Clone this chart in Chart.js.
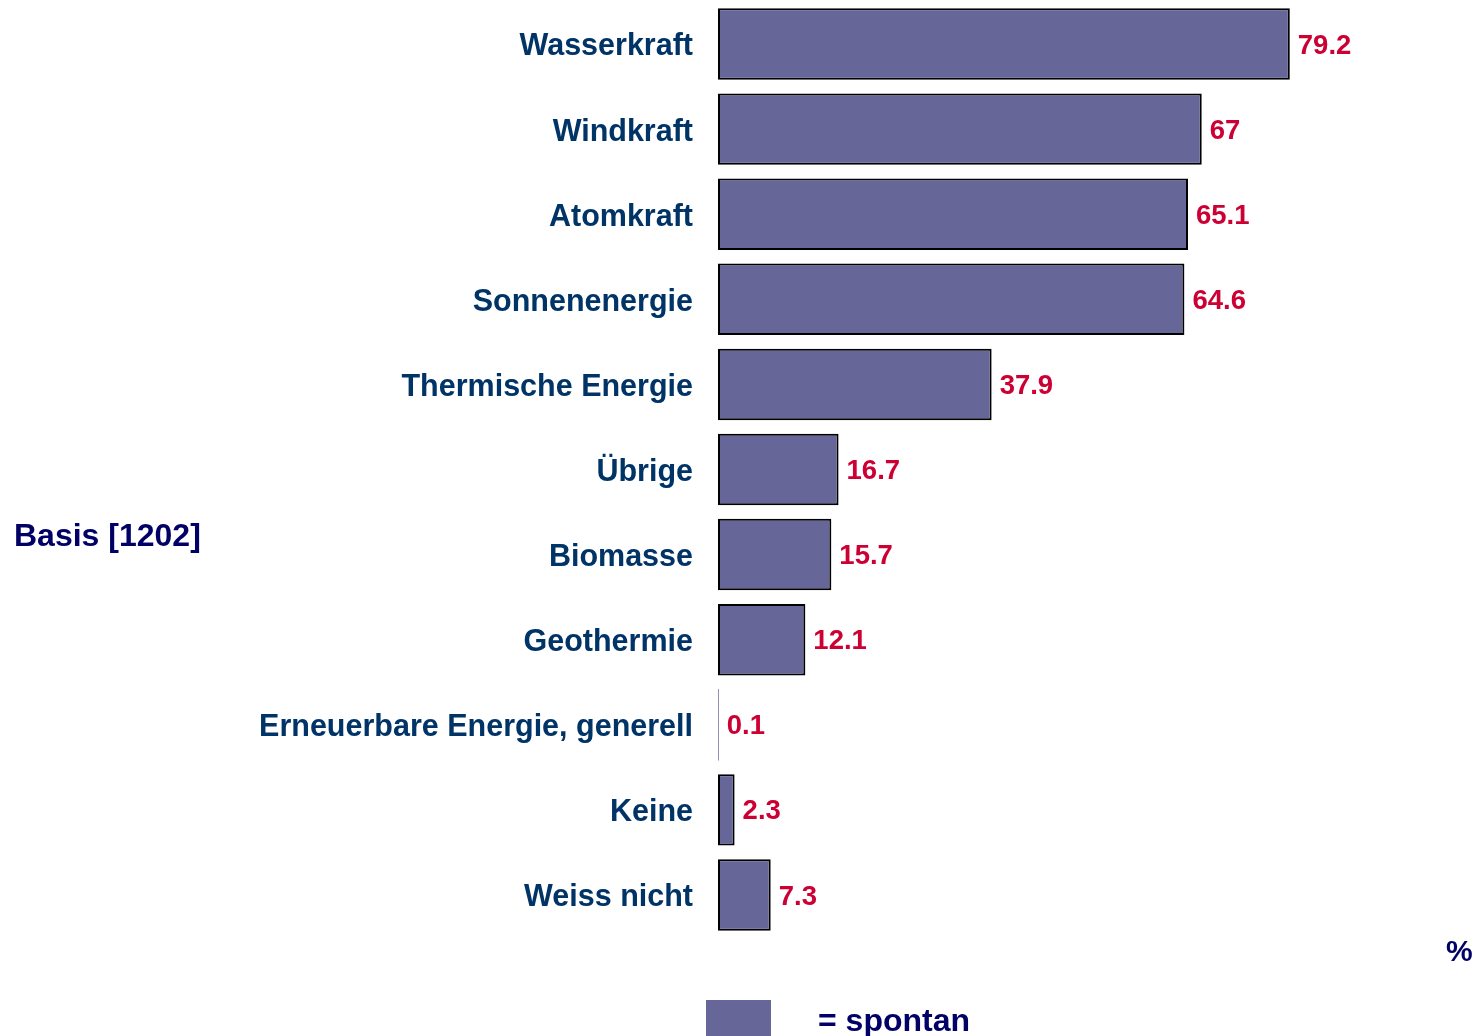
<!DOCTYPE html>
<html>
<head>
<meta charset="utf-8">
<script src="https://cdn.jsdelivr.net/npm/chart.js@4/dist/chart.umd.min.js"></script>
<style>
  html, body { margin: 0; padding: 0; background: #fff; }
  #wrap { position: relative; width: 1477px; height: 1036px; }
</style>
</head>
<body>
<div id="wrap"><canvas id="chart"></canvas></div>
<script>
const categories = ["Wasserkraft", "Windkraft", "Atomkraft", "Sonnenenergie", "Thermische Energie",
    "Übrige", "Biomasse", "Geothermie", "Erneuerbare Energie, generell", "Keine", "Weiss nicht"]
const spontanValues = [79.2, 67, 65.1, 64.6, 37.9, 16.7, 15.7, 12.1, 0.1, 2.3, 7.3]
const baseLabel = "Basis [1202]"
const unitLabel = "%"
const seriesLabel = "spontan"

const FONT = "'Liberation Sans', Arial, sans-serif"

// draws value labels, the base note, the unit and the legend
const extrasPlugin = {
    id: "extras",
    afterDatasetsDraw(chart){
        const ctx = chart.ctx
        const meta = chart.getDatasetMeta(0)
        ctx.save()
        ctx.font = `bold 27.5px ${FONT}`
        ctx.fillStyle = "#cc0033"
        ctx.textBaseline = "middle"
        ctx.textAlign = "left"
        meta.data.forEach((bar, i) => {
            ctx.fillText(String(spontanValues[i]), bar.x + 8, bar.y + 2)
        })

        ctx.fillStyle = "#000066"
        ctx.font = `bold 32px ${FONT}`
        ctx.fillText(baseLabel, 14, 537)
        ctx.fillText("= " + seriesLabel, 818, 1022)
        ctx.font = `bold 30px ${FONT}`
        ctx.fillText(unitLabel, 1446, 953)

        // legend swatch
        ctx.fillStyle = "#666699"
        ctx.fillRect(706, 1000, 65, 36)
        ctx.restore()
    }
}

new Chart(document.getElementById("chart"), {
    type: "bar",
    data: {
        labels: categories,
        datasets: [{
            label: seriesLabel,
            data: spontanValues,
            backgroundColor: "#666699",
            borderColor: "#000000",
            // a near-zero bar shows no outline in the original
            borderWidth: (c) => (c.raw < 0.5 ? 0 : 2),
            borderSkipped: false,
            barPercentage: 0.84,
            categoryPercentage: 1
        }]
    },
    options: {
        indexAxis: "y",
        responsive: true,
        maintainAspectRatio: false,
        animation: false,
        layout: { padding: { top: 1.5, bottom: 98.5, left: 0, right: 37 } },
        plugins: {
            legend: { display: false },
            tooltip: { enabled: false }
        },
        scales: {
            x: {
                display: false,
                min: 0,
                max: 100
            },
            y: {
                grid: { display: false, drawTicks: false },
                border: { display: false },
                afterFit(scale){
                    scale.width = 718
                    scale.paddingTop = 0
                    scale.paddingBottom = 0
                },
                ticks: {
                    padding: 25,
                    labelOffset: 3,
                    color: "#003366",
                    font: { family: FONT, size: 30.5, weight: "bold" }
                }
            }
        }
    },
    plugins: [extrasPlugin]
})
</script>
</body>
</html>
